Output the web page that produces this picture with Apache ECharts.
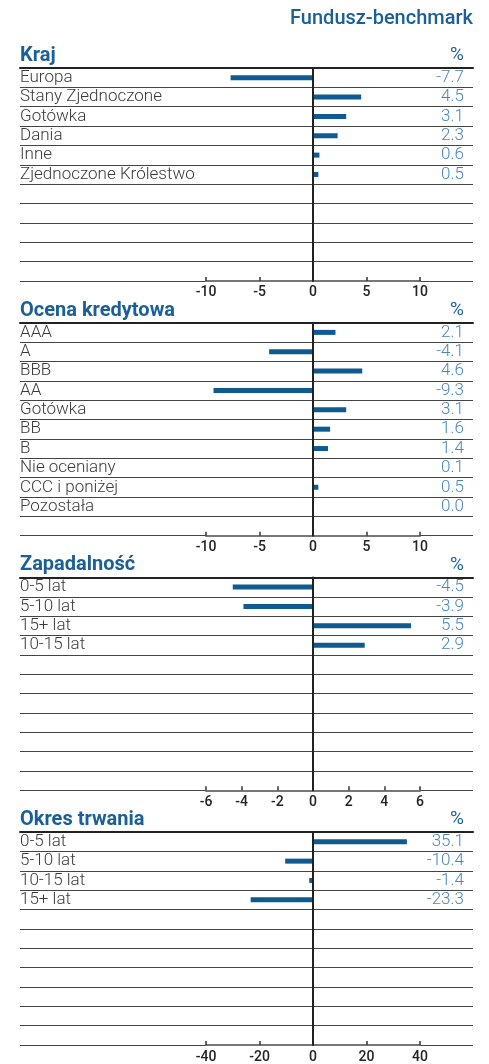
<!DOCTYPE html>
<html lang="pl">
<head>
<meta charset="utf-8">
<script src="https://cdn.jsdelivr.net/npm/echarts@6/dist/echarts.min.js"></script>
<style>
  html, body { margin: 0; padding: 0; background: #fff; }
  #main { width: 489px; height: 1064px; }
</style>
</head>
<body>
<div id="main"></div>
<script>
// dane
var krajLabels = ['Europa', 'Stany Zjednoczone', 'Gotówka', 'Dania', 'Inne', 'Zjednoczone Królestwo'];
var krajValues = [-7.7, 4.5, 3.1, 2.3, 0.6, 0.5];
var krajTicks = [-10, -5, 0, 5, 10];

var ocenaLabels = ['AAA', 'A', 'BBB', 'AA', 'Gotówka', 'BB', 'B', 'Nie oceniany', 'CCC i poniżej', 'Pozostała'];
var ocenaValues = [2.1, -4.1, 4.6, -9.3, 3.1, 1.6, 1.4, 0.1, 0.5, 0.0];
var ocenaTicks = [-10, -5, 0, 5, 10];

var zapadLabels = ['0-5 lat', '5-10 lat', '15+ lat', '10-15 lat'];
var zapadValues = [-4.5, -3.9, 5.5, 2.9];
var zapadTicks = [-6, -4, -2, 0, 2, 4, 6];

var okresLabels = ['0-5 lat', '5-10 lat', '10-15 lat', '15+ lat'];
var okresValues = [35.1, -10.4, -1.4, -23.3];
var okresTicks = [-40, -20, 0, 20, 40];

var panels = [
    {title: 'Kraj', labels: krajLabels, values: krajValues, ticks: krajTicks},
    {title: 'Ocena kredytowa', labels: ocenaLabels, values: ocenaValues, ticks: ocenaTicks},
    {title: 'Zapadalność', labels: zapadLabels, values: zapadValues, ticks: zapadTicks},
    {title: 'Okres trwania', labels: okresLabels, values: okresValues, ticks: okresTicks}
];

var ROWS = 11;
var FIRST_TOP = 68, STEP = 254.7, ROW_H = 19.36;
var BLUE = '#1a5f98', BAR = '#0f5a91', VAL = '#4a86ba', TXT = '#3a3a3a';
var FONT = 'Roboto, "DejaVu Sans", sans-serif';

function buildOption() {
    var titles = [{
        text: 'Fundusz-benchmark', right: 16, top: 9, padding: 0,
        textStyle: {fontFamily: FONT, fontSize: 20, fontWeight: 500, color: BLUE}
    }];
    var grids = [], xAxes = [], yAxes = [], series = [];

    panels.forEach(function (p, i) {
        var panelTop = FIRST_TOP + STEP * i;
        var h = ROW_H * ROWS;
        var rowKeys = [];
        for (var r = 0; r < ROWS; r++) rowKeys.push('r' + r);

        titles.push({
            text: p.title, left: 20, top: panelTop - 22, padding: 0,
            textStyle: {fontFamily: FONT, fontSize: 20, fontWeight: 'bold', color: BLUE}
        });
        titles.push({
            text: '%', right: 25, top: panelTop - 22, padding: 0,
            textStyle: {fontFamily: FONT, fontSize: 19, fontWeight: 'normal', color: BLUE}
        });

        // wiersze na całą szerokość + wąska siatka z osią wartości
        grids.push({left: 20, right: 16, top: panelTop, height: h});
        grids.push({left: 206, width: 214, top: panelTop, height: h});

        xAxes.push({
            gridIndex: 2 * i, type: 'value', position: 'top', min: 0, max: 1,
            axisLine: {show: true, onZero: false, lineStyle: {color: '#222', width: 2}},
            axisTick: {show: false}, axisLabel: {show: false}, splitLine: {show: false}
        });
        var t = p.ticks;
        xAxes.push({
            gridIndex: 2 * i + 1, type: 'value', position: 'bottom',
            min: t[0], max: t[t.length - 1], interval: t[1] - t[0],
            axisLine: {show: true, onZero: false, lineStyle: {color: '#777', width: 2}},
            axisTick: {show: true, inside: true, length: 4, lineStyle: {color: '#333', width: 1.5}},
            axisLabel: {margin: 5, fontFamily: FONT, fontSize: 14, fontWeight: 500, color: '#222'},
            splitLine: {show: false}
        });

        yAxes.push({
            gridIndex: 2 * i, type: 'category', inverse: true, position: 'left', data: rowKeys,
            axisLine: {show: false}, axisTick: {show: false},
            axisLabel: {
                inside: true, margin: 0, interval: 0, fontFamily: FONT, fontSize: 17, fontWeight: 300, color: TXT,
                formatter: function (v, idx) { return idx < p.labels.length ? p.labels[idx] : ''; }
            },
            splitLine: {show: true, interval: 0, lineStyle: {color: '#444', width: 1}}
        });
        yAxes.push({
            gridIndex: 2 * i, type: 'category', inverse: true, position: 'right', data: rowKeys,
            axisLine: {show: false}, axisTick: {show: false},
            axisLabel: {
                inside: true, margin: 9, interval: 0, fontFamily: FONT, fontSize: 17, fontWeight: 300, color: VAL,
                formatter: function (v, idx) { return idx < p.values.length ? p.values[idx].toFixed(1) : ''; }
            },
            splitLine: {show: false}
        });
        yAxes.push({
            gridIndex: 2 * i + 1, type: 'category', inverse: true, data: rowKeys, z: 5,
            axisLine: {show: true, onZero: true, lineStyle: {color: '#222', width: 2}},
            axisTick: {show: false}, axisLabel: {show: false}, splitLine: {show: false}
        });

        series.push({type: 'scatter', xAxisIndex: 2 * i, yAxisIndex: 3 * i, data: [], silent: true});
        series.push({
            type: 'bar', xAxisIndex: 2 * i + 1, yAxisIndex: 3 * i + 2,
            data: p.values, barWidth: 5, itemStyle: {color: BAR}, silent: true
        });
    });

    return {
        animation: false,
        backgroundColor: '#fff',
        title: titles,
        grid: grids,
        xAxis: xAxes,
        yAxis: yAxes,
        series: series
    };
}

var chart = echarts.init(document.getElementById('main'));
chart.setOption(buildOption());
</script>
</body>
</html>
